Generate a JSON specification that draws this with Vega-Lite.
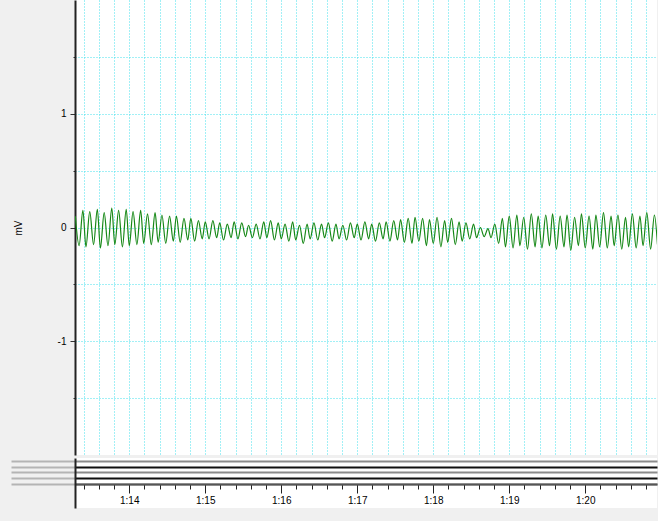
{
  "$schema": "https://vega.github.io/schema/vega-lite/v6.json",
  "background": "#f0f0f0",
  "padding": {"left": 10, "top": 0, "right": 0, "bottom": 16},
  "spacing": 0,
  "config": {
    "font": "Liberation Sans",
    "view": {"fill": "white", "stroke": null},
    "axis": {"labelFont": "Liberation Sans", "titleFont": "Liberation Sans", "labelColor": "#000", "titleColor": "#000"}
  },
  "datasets": {
    "eeg": [
      {"t": 73.29, "v": 0.10}, {"t": 73.34, "v": -0.16}, {"t": 73.39, "v": 0.15}, {"t": 73.43, "v": -0.17},
      {"t": 73.48, "v": 0.14}, {"t": 73.53, "v": -0.15}, {"t": 73.58, "v": 0.16}, {"t": 73.62, "v": -0.18},
      {"t": 73.67, "v": 0.13}, {"t": 73.72, "v": -0.16}, {"t": 73.77, "v": 0.17}, {"t": 73.81, "v": -0.15},
      {"t": 73.86, "v": 0.15}, {"t": 73.91, "v": -0.17}, {"t": 73.96, "v": 0.16}, {"t": 74.00, "v": -0.16},
      {"t": 74.05, "v": 0.14}, {"t": 74.10, "v": -0.15}, {"t": 74.15, "v": 0.15}, {"t": 74.19, "v": -0.14},
      {"t": 74.24, "v": 0.12}, {"t": 74.29, "v": -0.15}, {"t": 74.34, "v": 0.13}, {"t": 74.38, "v": -0.13},
      {"t": 74.43, "v": 0.11}, {"t": 74.48, "v": -0.14}, {"t": 74.53, "v": 0.10}, {"t": 74.58, "v": -0.12},
      {"t": 74.62, "v": 0.10}, {"t": 74.67, "v": -0.13}, {"t": 74.72, "v": 0.08}, {"t": 74.77, "v": -0.11},
      {"t": 74.81, "v": 0.08}, {"t": 74.86, "v": -0.12}, {"t": 74.91, "v": 0.06}, {"t": 74.96, "v": -0.10},
      {"t": 75.00, "v": 0.05}, {"t": 75.05, "v": -0.10}, {"t": 75.10, "v": 0.06}, {"t": 75.15, "v": -0.09},
      {"t": 75.19, "v": 0.04}, {"t": 75.24, "v": -0.11}, {"t": 75.29, "v": 0.03}, {"t": 75.34, "v": -0.09},
      {"t": 75.38, "v": 0.05}, {"t": 75.43, "v": -0.10}, {"t": 75.48, "v": 0.04}, {"t": 75.53, "v": -0.08},
      {"t": 75.57, "v": 0.02}, {"t": 75.62, "v": -0.09}, {"t": 75.67, "v": 0.03}, {"t": 75.72, "v": -0.10},
      {"t": 75.77, "v": 0.05}, {"t": 75.81, "v": -0.09}, {"t": 75.86, "v": 0.06}, {"t": 75.91, "v": -0.11},
      {"t": 75.96, "v": 0.04}, {"t": 76.00, "v": -0.10}, {"t": 76.05, "v": 0.03}, {"t": 76.10, "v": -0.12},
      {"t": 76.15, "v": 0.05}, {"t": 76.19, "v": -0.11}, {"t": 76.24, "v": 0.02}, {"t": 76.29, "v": -0.14},
      {"t": 76.34, "v": 0.03}, {"t": 76.38, "v": -0.10}, {"t": 76.43, "v": 0.04}, {"t": 76.48, "v": -0.11},
      {"t": 76.53, "v": 0.03}, {"t": 76.57, "v": -0.09}, {"t": 76.62, "v": 0.04}, {"t": 76.67, "v": -0.12},
      {"t": 76.72, "v": 0.03}, {"t": 76.76, "v": -0.10}, {"t": 76.81, "v": 0.02}, {"t": 76.86, "v": -0.11},
      {"t": 76.91, "v": 0.04}, {"t": 76.96, "v": -0.09}, {"t": 77.00, "v": 0.03}, {"t": 77.05, "v": -0.11},
      {"t": 77.10, "v": 0.05}, {"t": 77.15, "v": -0.10}, {"t": 77.19, "v": 0.03}, {"t": 77.24, "v": -0.12},
      {"t": 77.29, "v": 0.04}, {"t": 77.34, "v": -0.10}, {"t": 77.38, "v": 0.05}, {"t": 77.43, "v": -0.12},
      {"t": 77.48, "v": 0.06}, {"t": 77.53, "v": -0.11}, {"t": 77.57, "v": 0.07}, {"t": 77.62, "v": -0.13},
      {"t": 77.67, "v": 0.08}, {"t": 77.72, "v": -0.14}, {"t": 77.76, "v": 0.09}, {"t": 77.81, "v": -0.12},
      {"t": 77.86, "v": 0.08}, {"t": 77.91, "v": -0.16}, {"t": 77.95, "v": 0.07}, {"t": 78.00, "v": -0.14},
      {"t": 78.05, "v": 0.09}, {"t": 78.10, "v": -0.17}, {"t": 78.15, "v": 0.06}, {"t": 78.19, "v": -0.13},
      {"t": 78.24, "v": 0.08}, {"t": 78.29, "v": -0.15}, {"t": 78.34, "v": 0.05}, {"t": 78.38, "v": -0.12},
      {"t": 78.43, "v": 0.04}, {"t": 78.48, "v": -0.10}, {"t": 78.53, "v": 0.03}, {"t": 78.57, "v": -0.09},
      {"t": 78.62, "v": 0.00}, {"t": 78.67, "v": -0.08}, {"t": 78.72, "v": -0.01}, {"t": 78.76, "v": -0.09},
      {"t": 78.81, "v": 0.03}, {"t": 78.86, "v": -0.14}, {"t": 78.91, "v": 0.08}, {"t": 78.95, "v": -0.17},
      {"t": 79.00, "v": 0.10}, {"t": 79.05, "v": -0.18}, {"t": 79.10, "v": 0.11}, {"t": 79.14, "v": -0.16},
      {"t": 79.19, "v": 0.09}, {"t": 79.24, "v": -0.19}, {"t": 79.29, "v": 0.12}, {"t": 79.34, "v": -0.17},
      {"t": 79.38, "v": 0.10}, {"t": 79.43, "v": -0.18}, {"t": 79.48, "v": 0.11}, {"t": 79.53, "v": -0.16},
      {"t": 79.57, "v": 0.12}, {"t": 79.62, "v": -0.19}, {"t": 79.67, "v": 0.10}, {"t": 79.72, "v": -0.17},
      {"t": 79.76, "v": 0.11}, {"t": 79.81, "v": -0.20}, {"t": 79.86, "v": 0.09}, {"t": 79.91, "v": -0.16},
      {"t": 79.95, "v": 0.12}, {"t": 80.00, "v": -0.18}, {"t": 80.05, "v": 0.10}, {"t": 80.10, "v": -0.19},
      {"t": 80.14, "v": 0.11}, {"t": 80.19, "v": -0.17}, {"t": 80.24, "v": 0.13}, {"t": 80.29, "v": -0.18},
      {"t": 80.34, "v": 0.10}, {"t": 80.38, "v": -0.16}, {"t": 80.43, "v": 0.11}, {"t": 80.48, "v": -0.19},
      {"t": 80.53, "v": 0.09}, {"t": 80.57, "v": -0.17}, {"t": 80.62, "v": 0.12}, {"t": 80.67, "v": -0.18},
      {"t": 80.72, "v": 0.10}, {"t": 80.76, "v": -0.16}, {"t": 80.81, "v": 0.13}, {"t": 80.86, "v": -0.19},
      {"t": 80.91, "v": 0.11}, {"t": 80.95, "v": -0.15}
    ]
  },
  "vconcat": [
    {
      "width": 582,
      "height": 455,
      "data": {"name": "eeg"},
      "mark": {"type": "line", "color": "#168816", "strokeWidth": 1.2, "interpolate": "monotone", "clip": true},
      "encoding": {
        "x": {
          "field": "t", "type": "quantitative",
          "scale": {"domain": [73.286, 80.944], "nice": false, "zero": false},
          "axis": {
            "values": [73.4, 73.6, 73.8, 74, 74.2, 74.4, 74.6, 74.8, 75, 75.2, 75.4, 75.6, 75.8, 76, 76.2, 76.4, 76.6, 76.8, 77, 77.2, 77.4, 77.6, 77.8, 78, 78.2, 78.4, 78.6, 78.8, 79, 79.2, 79.4, 79.6, 79.8, 80, 80.2, 80.4, 80.6, 80.8],
            "grid": true, "gridColor": "#45e0ec", "gridDash": [1, 2], "gridWidth": 1,
            "labels": false, "ticks": false, "domain": false, "title": null, "minExtent": 0, "maxExtent": 0
          }
        },
        "y": {
          "field": "v", "type": "quantitative",
          "scale": {"domain": [-2, 2], "nice": false},
          "axis": {
            "values": [-1.5, -1, -0.5, 0, 0.5, 1, 1.5],
            "grid": true, "gridColor": "#45e0ec", "gridDash": [1, 2], "gridWidth": 1,
            "domain": true, "domainColor": "#222", "domainWidth": 2,
            "ticks": true, "tickColor": "#333",
            "tickSize": {"condition": {"test": "abs(datum.value - round(datum.value)) < 0.01", "value": 5}, "value": 2},
            "labelExpr": "datum.value == 1 ? '1' : datum.value == 0 ? '0' : datum.value == -1 ? '-1' : ''",
            "labelFontSize": 10, "labelPadding": 4,
            "title": "mV", "titleFontSize": 10, "titleFontWeight": "normal", "titlePadding": 34
          }
        }
      }
    },
    {
      "width": 582,
      "height": 50,
      "data": {"name": "eeg"},
      "mark": {"type": "point", "opacity": 0},
      "encoding": {
        "x": {
          "field": "t", "type": "quantitative",
          "scale": {"domain": [73.286, 80.944], "nice": false, "zero": false},
          "axis": {
            "values": [73.4, 73.6, 73.8, 74, 74.2, 74.4, 74.6, 74.8, 75, 75.2, 75.4, 75.6, 75.8, 76, 76.2, 76.4, 76.6, 76.8, 77, 77.2, 77.4, 77.6, 77.8, 78, 78.2, 78.4, 78.6, 78.8, 79, 79.2, 79.4, 79.6, 79.8, 80, 80.2, 80.4, 80.6, 80.8],
            "offset": -24, "grid": false, "title": null,
            "domain": true, "domainColor": "#555", "domainWidth": 2,
            "tickColor": "#222",
            "tickSize": {"condition": {"test": "abs(datum.value - round(datum.value)) < 0.01", "value": 9}, "value": 5},
            "labelExpr": "abs(datum.value - round(datum.value)) < 0.01 ? floor(round(datum.value) / 60) + ':' + (round(datum.value) % 60) : ''",
            "labelFontSize": 10, "labelPadding": 2
          }
        },
        "y": {
          "field": "v", "type": "quantitative",
          "scale": {"domain": [50, 0], "nice": false, "zero": false},
          "axis": {
            "values": [3, 9, 14, 20, 26],
            "grid": true, "gridWidth": 2,
            "gridColor": {"condition": {"test": "datum.value == 9 || datum.value == 20", "value": "#111"}, "value": "#8c8c8c"},
            "labels": false, "tickSize": 64, "tickWidth": 2, "tickColor": "#b4b4b4",
            "domain": true, "domainColor": "#222", "domainWidth": 2, "title": null
          }
        }
      }
    }
  ]
}
